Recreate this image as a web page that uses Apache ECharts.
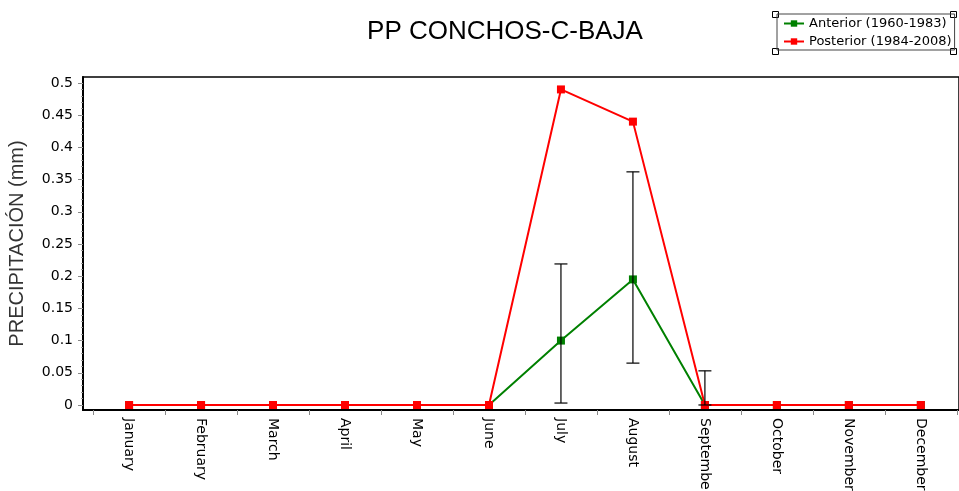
<!DOCTYPE html>
<html>
<head>
<meta charset="utf-8">
<script src="https://cdn.jsdelivr.net/npm/echarts@6/dist/echarts.min.js"></script>
<style>
  html, body { margin: 0; padding: 0; background: #fff; }
  #chart { width: 959px; height: 491px; }
</style>
</head>
<body>
<div id="chart"></div>
<script>
// meses
var months = ["January", "February", "March", "April", "May", "June",
  "July", "August", "September", "October", "November", "December"];
var anterior = [0, 0, 0, 0, 0, 0, 0.1, 0.195, 0, 0, 0, 0];
var posterior = [0, 0, 0, 0, 0, 0, 0.49, 0.44, 0, 0, 0, 0];
// barras de error del periodo anterior [mes, bajo, alto]
var errBars = [[6, 0.003, 0.219], [7, 0.065, 0.362], [8, 0, 0.053]];
var yTicks = [0, 0.05, 0.1, 0.15, 0.2, 0.25, 0.3, 0.35, 0.4, 0.45, 0.5];

var chart = echarts.init(document.getElementById("chart"));

var xTicks = [];
for (var i = 0; i <= months.length; i++) xTicks.push(i - 0.5);
var xLabels = months.map(function (m, i) { return i; });
// marcas menores cada 0.01
var yMinor = [];
for (var k = 0; k <= 50; k++) yMinor.push(k / 100);

function pairs(arr) {
  return arr.map(function (v, i) { return [i, v]; });
}

var font = "Liberation Sans, Arial, sans-serif";
var font2 = "DejaVu Sans, Verdana, sans-serif";
var yMin = -0.0078, yMax = 0.5093;

var option = {
  animation: false,
  title: {
    text: "PP CONCHOS-C-BAJA",
    left: 500,
    textAlign: "center",
    top: 14,
    textStyle: { fontFamily: font, fontSize: 26, fontWeight: "normal", color: "#000" }
  },
  legend: {
    orient: "vertical",
    left: 777,
    top: 14,
    padding: [3, 3, 2, 6],
    itemGap: 5,
    itemWidth: 20,
    itemHeight: 8,
    borderColor: "#444",
    borderWidth: 1,
    textStyle: { fontFamily: font2, fontSize: 13, color: "#000" },
    data: ["Anterior (1960-1983)", "Posterior (1984-2008)"]
  },
  grid: {
    left: 83, right: 0, top: 77, bottom: 81,
    outerBoundsMode: "none",
    containLabel: false,
    show: true, borderColor: "#000", borderWidth: 1.5
  },
  xAxis: {
    type: "value",
    min: -0.64,
    max: 11.53,
    splitLine: { show: false },
    axisLine: { onZero: false, lineStyle: { color: "#000", width: 2 } },
    axisTick: { customValues: xTicks, length: 5, lineStyle: { color: "#888" } },
    axisLabel: {
      customValues: xLabels,
      rotate: -90,
      margin: 8,
      fontFamily: font2,
      fontSize: 14,
      color: "#000",
      formatter: function (v) { return months[Math.round(v)]; }
    }
  },
  yAxis: [
    {
      type: "value",
      min: yMin,
      max: yMax,
      name: "PRECIPITACIÓN (mm)",
      nameLocation: "middle",
      nameGap: 56,
      nameTextStyle: { fontFamily: font, fontSize: 20, color: "#333" },
      splitLine: { show: false },
      axisLine: { show: true, onZero: false, lineStyle: { color: "#000", width: 2 } },
      axisTick: { customValues: yTicks, length: 5, lineStyle: { color: "#888" } },
      axisLabel: {
        customValues: yTicks,
        margin: 10,
        fontFamily: font2,
        fontSize: 14,
        color: "#000"
      }
    },
    {
      type: "value",
      min: yMin,
      max: yMax,
      position: "left",
      splitLine: { show: false },
      axisLine: { show: false, onZero: false },
      axisTick: { customValues: yMinor, length: 2, lineStyle: { color: "#999" } },
      axisLabel: { show: false }
    }
  ],
  series: [
    {
      name: "Anterior (1960-1983)",
      type: "line",
      data: pairs(anterior),
      symbol: "rect",
      symbolSize: 8,
      itemStyle: { color: "#008000" },
      lineStyle: { color: "#008000", width: 2 },
      z: 3
    },
    {
      name: "Posterior (1984-2008)",
      type: "line",
      data: pairs(posterior),
      symbol: "rect",
      symbolSize: 8,
      itemStyle: { color: "#ff0000" },
      lineStyle: { color: "#ff0000", width: 2 },
      z: 4
    },
    {
      type: "custom",
      data: errBars,
      z: 5,
      renderItem: function (params, api) {
        var x = api.value(0);
        var lo = api.coord([x, api.value(1)]);
        var hi = api.coord([x, api.value(2)]);
        var w = 6.5;
        var st = { stroke: "#000", lineWidth: 1.2 };
        return {
          type: "group",
          children: [
            { type: "line", shape: { x1: lo[0], y1: lo[1], x2: hi[0], y2: hi[1] }, style: st },
            { type: "line", shape: { x1: lo[0] - w, y1: lo[1], x2: lo[0] + w, y2: lo[1] }, style: st },
            { type: "line", shape: { x1: hi[0] - w, y1: hi[1], x2: hi[0] + w, y2: hi[1] }, style: st }
          ]
        };
      }
    }
  ],
  graphic: [
    { type: "rect", left: 772, top: 11, shape: { width: 6, height: 6 }, style: { fill: "#fff", stroke: "#000" } },
    { type: "rect", left: 950, top: 11, shape: { width: 6, height: 6 }, style: { fill: "#fff", stroke: "#000" } },
    { type: "rect", left: 772, top: 48, shape: { width: 6, height: 6 }, style: { fill: "#fff", stroke: "#000" } },
    { type: "rect", left: 950, top: 48, shape: { width: 6, height: 6 }, style: { fill: "#fff", stroke: "#000" } }
  ]
};

chart.setOption(option);
</script>
</body>
</html>
